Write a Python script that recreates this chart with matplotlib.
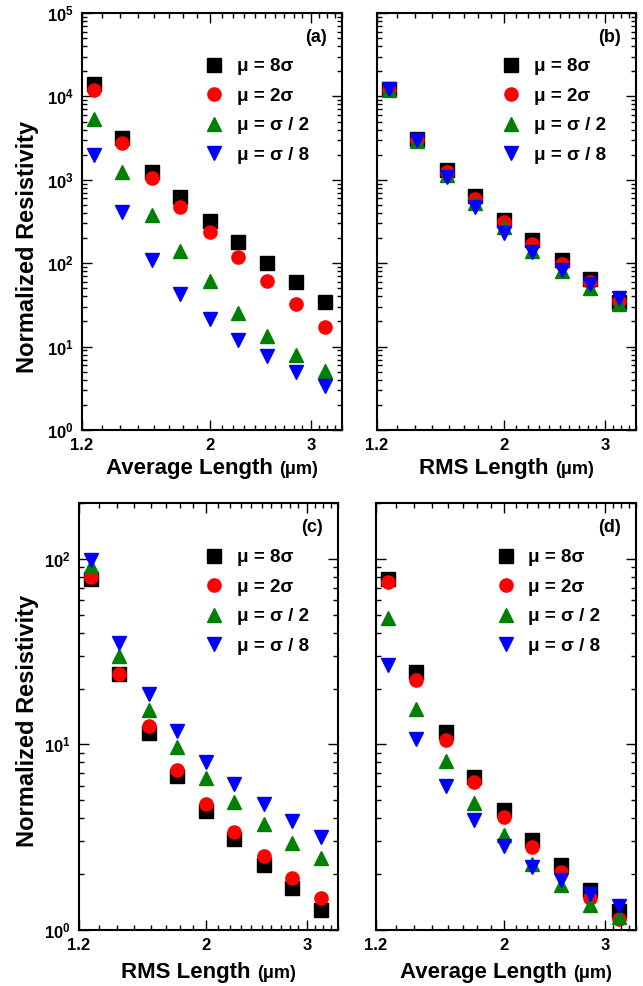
import numpy as np
import matplotlib
matplotlib.use('Agg')
import matplotlib.pyplot as plt
from matplotlib.ticker import FixedLocator, NullFormatter, LogLocator, LogFormatterMathtext
from matplotlib.offsetbox import TextArea, HPacker, AnchoredOffsetbox

plt.rcParams['font.family'] = ['Liberation Sans', 'DejaVu Sans']
plt.rcParams['font.weight'] = 'bold'
plt.rcParams['mathtext.fontset'] = 'custom'
plt.rcParams['mathtext.rm'] = 'Liberation Sans:bold'
plt.rcParams['mathtext.bf'] = 'Liberation Sans:bold'
plt.rcParams['mathtext.default'] = 'rm'

# lengths (um), same for every panel
length_um = [1.26, 1.41, 1.59, 1.78, 2.0, 2.24, 2.52, 2.83, 3.17]
series_labels = ['μ = 8σ', 'μ = 2σ', 'μ = σ / 2', 'μ = σ / 8']

# (a) vs average length
a_mu8 = [14100, 3200, 1240, 620, 321, 178, 101, 60, 34.5]
a_mu2 = [11900, 2740, 1050, 476, 235, 118, 61, 32, 17.3]
a_half = [5300, 1230, 378, 141, 61, 25, 13.4, 7.9, 5.1]
a_eighth = [1980, 415, 109, 43, 21.5, 12, 7.8, 4.9, 3.4]

# (b) vs RMS length
b_mu8 = [12300, 3060, 1310, 640, 330, 190, 109, 65, 34.5]
b_mu2 = [12000, 3000, 1240, 590, 314, 169, 97, 60, 35]
b_half = [11800, 2950, 1140, 520, 275, 141, 81, 50, 32.4]
b_eighth = [12300, 3000, 1090, 475, 228, 135, 83, 57, 38.6]

# (c) vs RMS length
c_mu8 = [78, 24, 11.5, 6.8, 4.4, 3.08, 2.25, 1.68, 1.28]
c_mu2 = [80, 24, 12.5, 7.25, 4.75, 3.38, 2.5, 1.91, 1.48]
c_half = [92, 29.9, 15.4, 9.7, 6.6, 4.9, 3.74, 2.93, 2.43]
c_eighth = [99, 35, 18.7, 11.8, 8.0, 6.15, 4.8, 3.87, 3.17]

# (d) vs average length
d_mu8 = [77.7, 24.5, 11.6, 6.7, 4.42, 3.07, 2.24, 1.65, 1.26]
d_mu2 = [75.5, 22.3, 10.6, 6.27, 4.07, 2.8, 2.06, 1.49, 1.14]
d_half = [48, 15.6, 8.1, 4.83, 3.24, 2.26, 1.75, 1.36, 1.18]
d_eighth = [26.8, 10.7, 5.94, 3.9, 2.84, 2.19, 1.87, 1.57, 1.35]

styles = [('s', 'black'), ('o', 'red'), ('^', 'green'), ('v', 'blue')]

W, H = 643, 986
fig = plt.figure(figsize=(W / 100, H / 100), dpi=100)

def make_ax(l, r, t, b):
    return fig.add_axes([l / W, 1 - b / H, (r - l) / W, (b - t) / H])

ax_a = make_ax(82, 342, 13, 430)
ax_b = make_ax(377, 636, 13, 430)
ax_c = make_ax(79, 338, 503, 930)
ax_d = make_ax(376, 636, 503, 930)

# axes, data, tag, xlabel, ylim, show_y, legend x, ylabel coords, xlabel offset
panels = [
    (ax_a, [a_mu8, a_mu2, a_half, a_eighth], '(a)', 'Average Length', (1, 1e5), True, 0.473, (-0.165, 0.44), 0.068),
    (ax_b, [b_mu8, b_mu2, b_half, b_eighth], '(b)', 'RMS Length', (1, 1e5), False, 0.483, None, 0.068),
    (ax_c, [c_mu8, c_mu2, c_half, c_eighth], '(c)', 'RMS Length', (1, 200), True, 0.486, (-0.155, 0.49), 0.075),
    (ax_d, [d_mu8, d_mu2, d_half, d_eighth], '(d)', 'Average Length', (1, 200), False, 0.463, None, 0.075),
]

for ax, data, tag, xlabel, ylim, show_y, leg_x, ylab_xy, xlab_off in panels:
    for vals, (m, c), lab in zip(data, styles, series_labels):
        ax.plot(length_um, vals, linestyle='none', marker=m, color=c,
                markersize=9.5, label=lab)
    ax.set_xscale('log')
    ax.set_yscale('log')
    ax.set_xlim(1.2, 3.4)
    ax.set_ylim(*ylim)

    ax.xaxis.set_major_locator(FixedLocator([1.2, 2, 3]))
    ax.set_xticklabels(['1.2', '2', '3'])
    minors = [v for v in np.round(np.arange(1.3, 3.45, 0.1), 2) if v not in (2.0, 3.0)]
    ax.xaxis.set_minor_locator(FixedLocator(minors))
    ax.xaxis.set_minor_formatter(NullFormatter())

    ax.yaxis.set_major_locator(LogLocator(base=10))
    ax.yaxis.set_minor_locator(LogLocator(base=10, subs=np.arange(2, 10)))
    ax.yaxis.set_minor_formatter(NullFormatter())
    if show_y:
        ax.yaxis.set_major_formatter(LogFormatterMathtext())
        ax.set_ylabel('Normalized Resistivity', fontsize=17, fontweight='bold')
        ax.yaxis.set_label_coords(*ylab_xy)
    else:
        ax.yaxis.set_major_formatter(NullFormatter())

    ax.tick_params(axis='both', which='both', direction='in', top=True, right=True,
                   labelsize=12, width=1.0)
    ax.tick_params(axis='both', which='major', length=7, pad=6)
    ax.tick_params(axis='both', which='minor', length=3.5)
    for s in ax.spines.values():
        s.set_linewidth(1.5)

    # x label: bold title with smaller unit
    t1 = TextArea(xlabel + ' ', textprops=dict(fontsize=16, fontweight='bold'))
    t2 = TextArea('(μm)', textprops=dict(fontsize=13, fontweight='bold'))
    box = HPacker(children=[t1, t2], align='baseline', pad=0, sep=0)
    anchored = AnchoredOffsetbox(loc='upper center', child=box, pad=0, borderpad=0,
                                 frameon=False, bbox_to_anchor=(0.5, -xlab_off),
                                 bbox_transform=ax.transAxes)
    fig.add_artist(anchored)

    ax.text(0.94, 0.942, tag, transform=ax.transAxes, ha='right', va='center',
            fontsize=13, fontweight='bold')
    ax.legend(loc='upper left', bbox_to_anchor=(leg_x, 0.892), frameon=False,
              handlelength=1.0, handletextpad=0.7, borderpad=0,
              borderaxespad=0, labelspacing=0.66, prop={'weight': 'bold', 'size': 13.5})

fig.savefig('out.png', dpi=100)
